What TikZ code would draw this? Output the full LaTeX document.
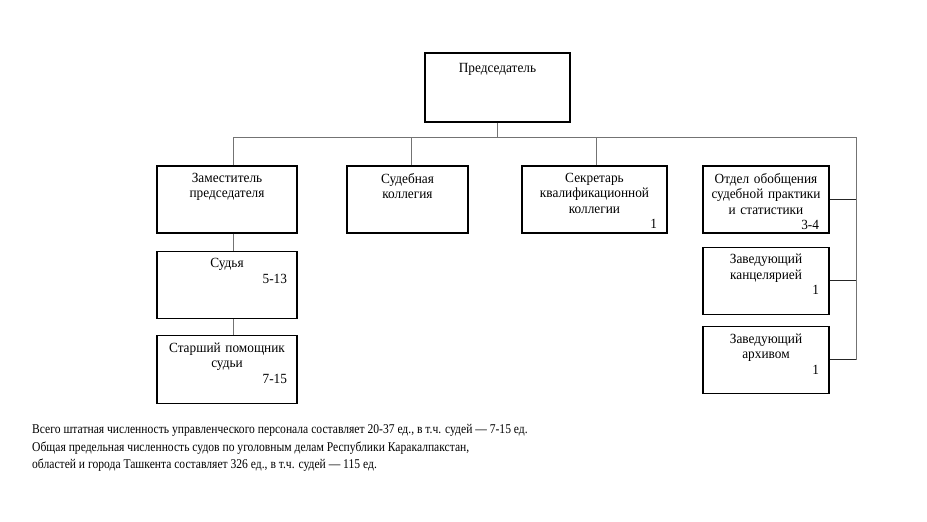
\documentclass[tikz,border=0pt]{standalone}
\usepackage{fontspec}
\setmainfont[FakeStretch=0.95]{Liberation Serif}
\newfontfamily\notefont[FakeStretch=0.865]{Liberation Serif}
\usetikzlibrary{positioning,calc}

\begin{document}
\begin{tikzpicture}[
    x=1pt, y=-1pt,
    post/.style={draw, line width=1.2pt, minimum height=67pt, inner sep=0pt},
    ttl/.style={anchor=north, align=center, inner xsep=10pt, inner ysep=7.5pt,
                font=\fontsize{14}{15.5}\selectfont},
    tree/.style={draw=black!55, line width=0.9pt},
    stub/.style={draw=black!85, line width=1pt},
    note/.style={anchor=north west, align=left, inner sep=0pt,
                 font=\notefont\fontsize{13.4}{17.5}\selectfont}
]
\useasboundingbox (0,0) rectangle (927,522);
% top
\node[post, minimum width=145pt, minimum height=69pt,
      label={[ttl, yshift=-3pt, text width=125pt]north:Председатель}] (chair) at (497.5,87.5) {};
% first row
\node[post, minimum width=140pt,
      label={[ttl, text width=120pt]north:Заместитель\\председателя}] (zam) at (227,199.5) {};
\node[post, minimum width=121pt,
      label={[ttl, text width=101pt]north:Судебная\\коллегия}] (kolleg) at (407.5,199.5) {};
\node[post, minimum width=145pt,
      label={[ttl, text width=125pt]north:Секретарь\\квалификационной\\коллегии\\\makebox[\hsize][r]{1}}] (sekr) at (594.5,199.5) {};
\node[post, minimum width=126pt,
      label={[ttl, inner xsep=6pt, text width=114pt]north:Отдел обобщения\\судебной практики\\и статистики\\\makebox[\hsize][r]{3-4\hspace{4pt}}}] (otdel) at (766,199.5) {};
% right column
\node[post, minimum width=126pt, below=13pt of otdel,
      label={[ttl, text width=106pt]north:Заведующий\\канцелярией\\\makebox[\hsize][r]{1}}] (kanc) {};
\node[post, minimum width=126pt, below=11pt of kanc,
      label={[ttl, text width=106pt]north:Заведующий\\архивом\\\makebox[\hsize][r]{1}}] (arhiv) {};
% left column
\node[post, minimum width=140pt, below=17pt of zam,
      label={[ttl, text width=120pt]north:Судья\\\makebox[\hsize][r]{5-13}}] (sudya) {};
\node[post, minimum width=140pt, minimum height=68pt, below=16pt of sudya,
      label={[ttl, text width=120pt]north:Старший помощник\\судьи\\\makebox[\hsize][r]{7-15}}] (pom) {};

% connectors
\coordinate (busL) at (233,137);
\coordinate (busR) at (856,137);
\draw[tree] (chair.south) -- (chair.south |- busL);
\draw[tree] ([xshift=6pt]zam.north) |- (busR) -- (busR |- arhiv.east);
\draw[tree] ([xshift=4pt]kolleg.north) -- ([xshift=4pt]kolleg.north |- busL);
\draw[tree] ([xshift=2pt]sekr.north) -- ([xshift=2pt]sekr.north |- busL);
\draw[tree] ([xshift=6pt]zam.south) -- ([xshift=6pt]sudya.north);
\draw[tree] ([xshift=6pt]sudya.south) -- ([xshift=6pt]pom.north);
\draw[stub] (otdel.east) -- (otdel.east -| busR);
\draw[stub] (kanc.east) -- (kanc.east -| busR);
\draw[stub] (arhiv.east) -- (arhiv.east -| busR);

% footnote
\node[note] (itog) at (32,424.5) {Всего штатная численность управленческого персонала составляет 20-37 ед., в т.ч. судей — 7-15 ед.\\
Общая предельная численность судов по уголовным делам Республики Каракалпакстан,\\
областей и города Ташкента составляет 326 ед., в т.ч. судей — 115 ед.};
\end{tikzpicture}
\end{document}
